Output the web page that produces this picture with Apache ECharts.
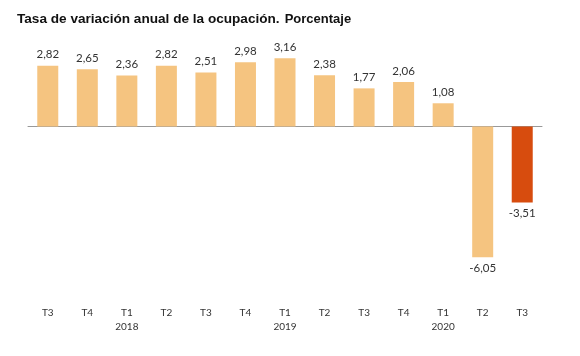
<!DOCTYPE html>
<html>
<head>
<meta charset="utf-8">
<script src="https://cdn.jsdelivr.net/npm/echarts@6/dist/echarts.min.js"></script>
<style>html,body{margin:0;padding:0;background:#fff}#c{width:580px;height:356px}</style>
</head>
<body>
<div id="c"></div>
<script>
var categories = ['T3','T4','T1\n2018','T2','T3','T4','T1\n2019','T2','T3','T4','T1\n2020','T2','T3'];
var values = [2.82, 2.65, 2.36, 2.82, 2.51, 2.98, 3.16, 2.38, 1.77, 2.06, 1.08, -6.05, -3.51];
var highlightIndex = 12;

var chart = echarts.init(document.getElementById('c'));
var fmt = function (v) { return v.toFixed(2).replace('.', ','); };
var data = values.map(function (v, i) {
  return {
    value: v,
    itemStyle: { color: i === highlightIndex ? '#D74C0E' : '#F5C480' },
    label: { position: v < 0 ? 'bottom' : 'top' }
  };
});
chart.setOption({
  animation: false,
  title: {
    left: 17, top: 10, padding: 0,
    text: '{b|Tasa de variación anual de la ocupación.} {n|Porcentaje}',
    textStyle: {
      rich: {
        b: { fontFamily: 'Liberation Sans', fontWeight: 'bold', fontSize: 13.6, color: '#111' },
        n: { fontFamily: 'Liberation Sans', fontSize: 13, color: '#111' }
      }
    }
  },
  grid: { left: 28, right: 38, top: 51, height: 216 },
  xAxis: [
    {
      type: 'category', data: categories,
      axisLine: { onZero: true, lineStyle: { color: '#999', width: 1 } },
      axisTick: { show: false }, axisLabel: { show: false }
    },
    {
      type: 'category', data: categories, position: 'bottom',
      axisLine: { show: false }, axisTick: { show: false },
      axisLabel: { margin: 39, fontFamily: 'Lato', fontSize: 10, color: '#333', lineHeight: 14 }
    }
  ],
  yAxis: { type: 'value', min: -6.5, max: 3.5, show: false, splitLine: { show: false } },
  series: [{
    type: 'bar', data: data, barWidth: 21,
    label: {
      show: true, distance: 5, fontFamily: 'Lato', fontSize: 11.5, color: '#333',
      formatter: function (p) { return fmt(p.value); }
    }
  }]
});
</script>
</body>
</html>
